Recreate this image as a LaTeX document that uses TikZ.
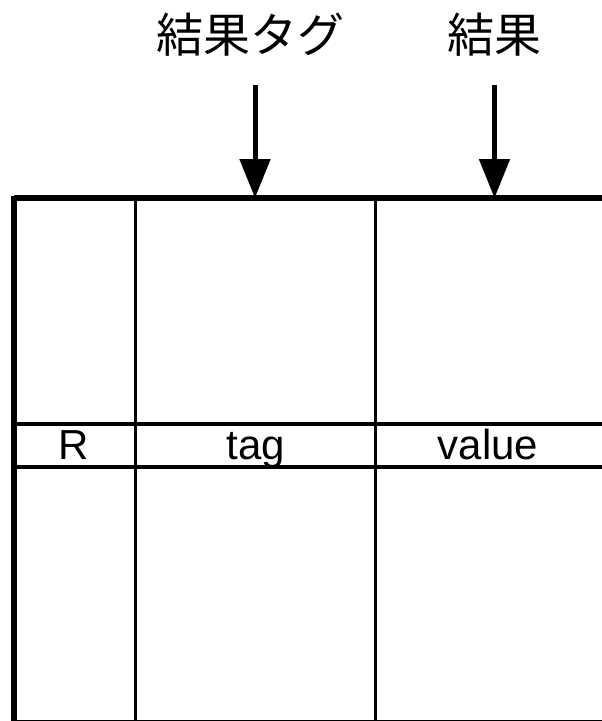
\documentclass[tikz,border=0pt]{standalone}
\usepackage{fontspec}
\setmainfont{Liberation Sans}
\newfontfamily\jpfont{Noto Sans CJK JP}
\usetikzlibrary{arrows.meta}

\tikzset{
  heavy/.style={line width=5.5pt},
  light/.style={line width=3pt},
  rowrule/.style={line width=4.5pt},
  pointer/.style={line width=5pt, -{Triangle[length=39pt,width=30pt]}},
  jplabel/.style={font=\jpfont\fontsize{47}{52}\selectfont, inner sep=0pt},
  cell/.style={font=\fontsize{42}{46}\selectfont, inner sep=0pt, anchor=base}
}

\begin{document}
\begin{tikzpicture}[x=1pt,y=-1pt]
  \useasboundingbox[fill=white] (0,0) rectangle (602,721);

  % column rules
  \draw[light] (135,198) -- (135,721);
  \draw[light] (375,198) -- (375,721);
  % row rules around the register row
  \draw[rowrule] (14,424) -- (602,424);
  \draw[rowrule] (14,467) -- (602,467);
  % outer frame: top, left, bottom
  \draw[heavy] (14,198) -- (602,198);
  \draw[heavy] (14,195.5) -- (14,721);
  \draw[heavy] (14,723) -- (602,723);

  % register row contents
  \node[cell] (r) at (74,459) {R};
  \node[cell] (tag) at (256,459) {tag};
  \node[cell] (value) at (488,459) {value};

  % field labels above the table
  \node[jplabel] (tagname) at (250,35) {結果タグ};
  \node[jplabel] (valname) at (494,35) {結果};

  % arrows into the tag and value fields
  \coordinate (tagfrom) at (255,85);
  \coordinate (tagto) at (255,198);
  \coordinate (valfrom) at (494.5,85);
  \coordinate (valto) at (494.5,198);
  \draw[pointer] (tagfrom) -- (tagto);
  \draw[pointer] (valfrom) -- (valto);
\end{tikzpicture}
\end{document}
